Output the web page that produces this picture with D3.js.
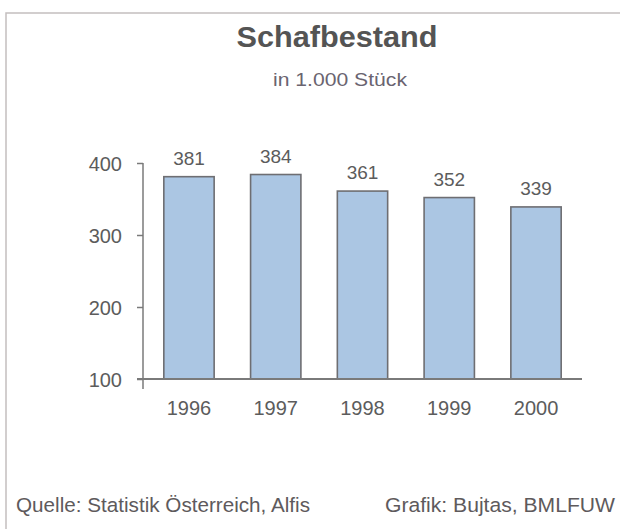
<!DOCTYPE html>
<html><head><meta charset="utf-8">
<script src="https://cdn.jsdelivr.net/npm/d3@7"></script>
<style>
html,body{margin:0;padding:0;background:#fff;}
svg{display:block;}
text{font-family:"Liberation Sans",Arial,Helvetica,sans-serif;}
</style></head>
<body>
<script>
const years = ["1996","1997","1998","1999","2000"];
const values = [381, 384, 361, 352, 339];
const yTicks = [100, 200, 300, 400];
const title = "Schafbestand";
const subtitle = "in 1.000 Stück";
const source = "Quelle: Statistik Österreich, Alfis";
const credit = "Grafik: Bujtas, BMLFUW";

const W = 620, H = 529;
const svg = d3.select("body").append("svg").attr("width", W).attr("height", H);

// frame
svg.append("rect").attr("x", 6).attr("y", 13).attr("width", 640).attr("height", 560)
  .attr("fill", "#fff").attr("stroke", "#c4bebe").attr("stroke-width", 1.5);

const x = d3.scaleBand().domain(years).range([143, 582]).paddingInner(0.42).paddingOuter(0.24);
const y = d3.scaleLinear().domain([100, 400]).range([379, 163]);

// title
svg.append("text").attr("x", 337).attr("y", 47).attr("text-anchor", "middle")
  .attr("font-size", 29).attr("font-weight", "bold").attr("fill", "#545454")
  .attr("textLength", 201).attr("lengthAdjust", "spacingAndGlyphs").text(title);
svg.append("text").attr("x", 340).attr("y", 86).attr("text-anchor", "middle")
  .attr("font-size", 19).attr("fill", "#6a6470")
  .attr("textLength", 134).attr("lengthAdjust", "spacingAndGlyphs").text(subtitle);

// bars
svg.append("g").selectAll("rect").data(values).join("rect")
  .attr("x", (d, i) => x(years[i]))
  .attr("y", d => y(d))
  .attr("width", x.bandwidth())
  .attr("height", d => y(100) - y(d))
  .attr("fill", "#abc6e3").attr("stroke", "#6e6e72").attr("stroke-width", 1.6);

// value labels
svg.append("g").selectAll("text").data(values).join("text")
  .attr("x", (d, i) => x(years[i]) + x.bandwidth() / 2)
  .attr("y", d => y(d) - 12)
  .attr("text-anchor", "middle").attr("font-size", 19).attr("fill", "#5c5c5c")
  .text(d => d);

// y axis
const yAxis = svg.append("g").attr("transform", "translate(143,0)")
  .call(d3.axisLeft(y).tickValues(yTicks).tickSize(6).tickPadding(15).tickFormat(d3.format("d")));
yAxis.select(".domain").remove();
yAxis.selectAll(".tick line").attr("stroke", "#7a7a7a").attr("stroke-width", 1.5);
yAxis.selectAll(".tick text").attr("font-size", 20).attr("fill", "#5c5c5c")
  .attr("font-family", "Liberation Sans, Arial, sans-serif").attr("dy", "0.36em");
svg.append("line").attr("x1", 143).attr("x2", 143).attr("y1", y(400)).attr("y2", y(100) + 10)
  .attr("stroke", "#7a7a7a").attr("stroke-width", 1.5);
// baseline
svg.append("line").attr("x1", 137).attr("x2", 582).attr("y1", y(100)).attr("y2", y(100))
  .attr("stroke", "#7a7a7a").attr("stroke-width", 1.8);

// x labels
svg.append("g").selectAll("text").data(years).join("text")
  .attr("x", d => x(d) + x.bandwidth() / 2).attr("y", 415)
  .attr("text-anchor", "middle").attr("font-size", 20).attr("fill", "#5c5c5c")
  .text(d => d);

// footer
svg.append("text").attr("x", 16).attr("y", 512).attr("font-size", 20.5).attr("fill", "#5e5a5c")
  .attr("textLength", 294).attr("lengthAdjust", "spacingAndGlyphs").text(source);
svg.append("text").attr("x", 385).attr("y", 512).attr("font-size", 20.5).attr("fill", "#5e5a5c")
  .attr("textLength", 230).attr("lengthAdjust", "spacingAndGlyphs").text(credit);
</script>
</body></html>
